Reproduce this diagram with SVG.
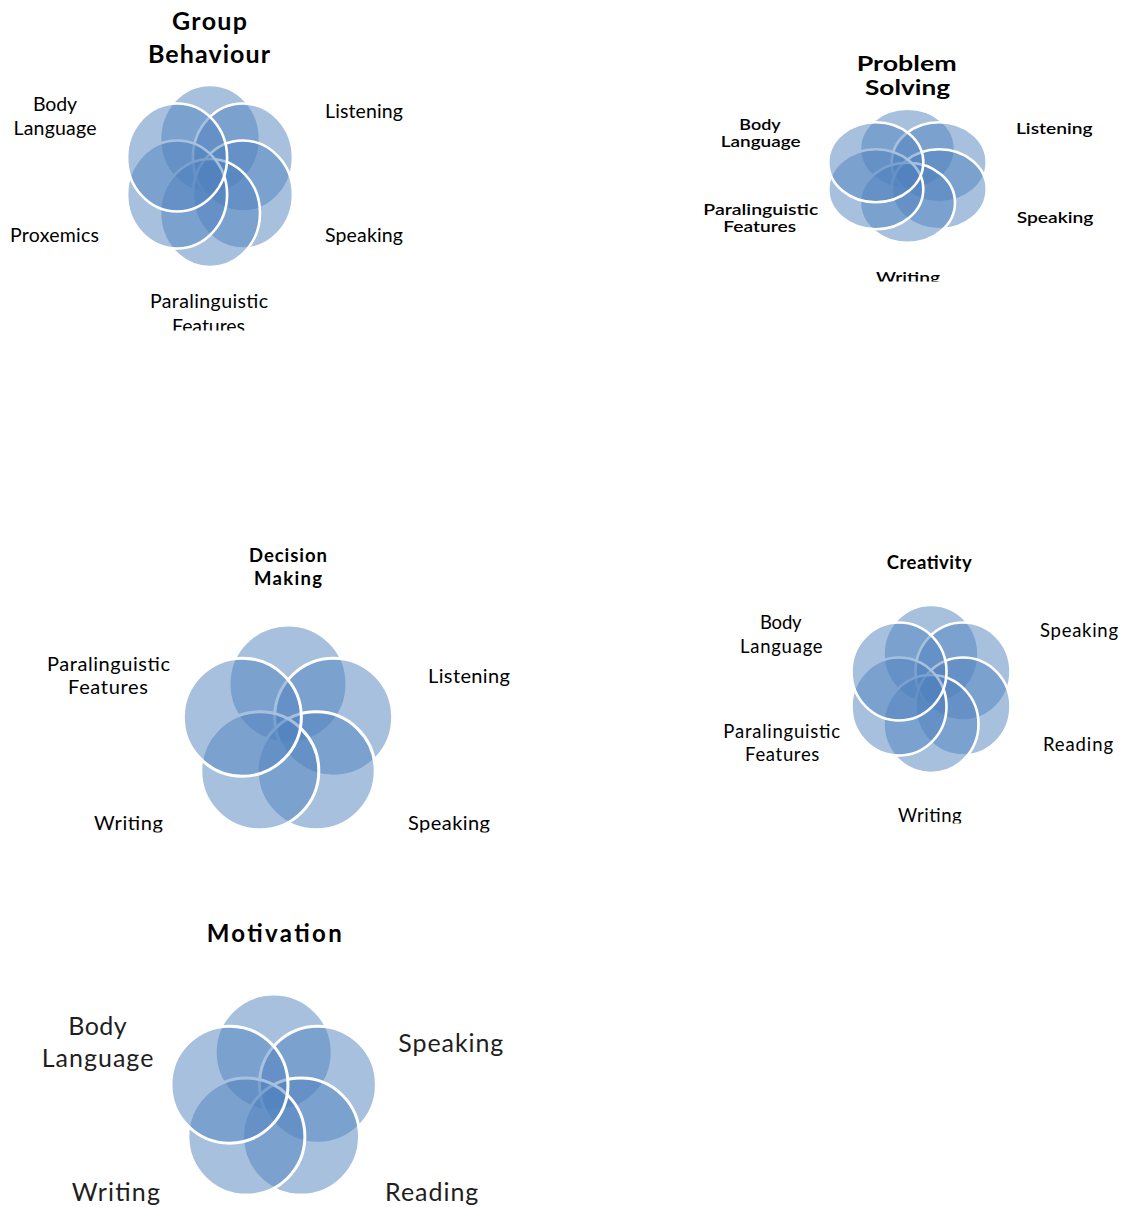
<svg xmlns="http://www.w3.org/2000/svg" width="1122" height="1207" viewBox="0 0 1122 1207">
  <style>
    .ring { fill: #4F81BD; fill-opacity: 0.5; stroke: #FFFFFF; stroke-width: 3; }
    .ring.sm { stroke-width: 2.6; }
    text { font-family: Lato, "Open Sans", "Liberation Sans", sans-serif; fill: #000; text-anchor: middle; }
    .title { font-weight: bold; }
    .ps { font-weight: 600; }
    .mo { font-weight: normal; fill: #1e1e1e; }
  </style>
  <defs>
    <clipPath id="clipGB"><rect x="0" y="0" width="420" height="330.5"/></clipPath>
    <clipPath id="clipPS"><rect x="690" y="0" width="432" height="281.5"/></clipPath>
    <clipPath id="clipDM"><rect x="0" y="500" width="560" height="332.5"/></clipPath>
    <clipPath id="clipCR"><rect x="690" y="500" width="432" height="323.5"/></clipPath>
  </defs>
  <rect width="1122" height="1207" fill="#FFFFFF"/>

  <!-- Group Behaviour: six rings, painted clockwise from the top -->
  <g id="group-behaviour">
    <ellipse id="gb-ring-1" class="ring sm" cx="210" cy="139" rx="50" ry="54"/>
    <ellipse id="gb-ring-2" class="ring sm" cx="242.9" cy="157.5" rx="50" ry="54"/>
    <ellipse id="gb-ring-3" class="ring sm" cx="242.9" cy="194.5" rx="50" ry="54"/>
    <ellipse id="gb-ring-4" class="ring sm" cx="210" cy="213" rx="50" ry="54"/>
    <ellipse id="gb-ring-5" class="ring sm" cx="177.1" cy="194.5" rx="50" ry="54"/>
    <ellipse id="gb-ring-6" class="ring sm" cx="177.1" cy="157.5" rx="50" ry="54"/>
    <text class="title" x="209.5" y="29.5" font-size="25" textLength="75">Group</text>
    <text class="title" x="209" y="62.5" font-size="25" textLength="122">Behaviour</text>
    <text x="55" y="111" font-size="19.5" textLength="44">Body</text>
    <text x="55" y="134.5" font-size="19.5" textLength="83">Language</text>
    <text x="364" y="117.5" font-size="19.5" textLength="78">Listening</text>
    <text x="54.5" y="242.3" font-size="19.5" textLength="89">Proxemics</text>
    <text x="364" y="242.3" font-size="19.5" textLength="78">Speaking</text>
    <text x="209" y="308.3" font-size="19.5" textLength="118">Paralinguistic</text>
    <text clip-path="url(#clipGB)" x="208.5" y="332.5" font-size="19.5" textLength="73">Features</text>
  </g>

  <!-- Problem Solving: six flattened rings -->
  <g id="problem-solving">
    <ellipse id="ps-ring-1" class="ring sm" cx="907.5" cy="148.8" rx="47.5" ry="40"/>
    <ellipse id="ps-ring-2" class="ring sm" cx="939.2" cy="162.3" rx="47.5" ry="40"/>
    <ellipse id="ps-ring-3" class="ring sm" cx="939.2" cy="189.3" rx="47.5" ry="40"/>
    <ellipse id="ps-ring-4" class="ring sm" cx="907.5" cy="202.8" rx="47.5" ry="40"/>
    <ellipse id="ps-ring-5" class="ring sm" cx="875.8" cy="189.3" rx="47.5" ry="40"/>
    <ellipse id="ps-ring-6" class="ring sm" cx="875.8" cy="162.3" rx="47.5" ry="40"/>
    <text class="title" x="906.7" y="71" font-size="20" textLength="100" lengthAdjust="spacingAndGlyphs">Problem</text>
    <text class="title" x="907.5" y="95" font-size="20" textLength="85" lengthAdjust="spacingAndGlyphs">Solving</text>
    <text class="ps" x="760" y="130" font-size="15" textLength="41.3" lengthAdjust="spacingAndGlyphs">Body</text>
    <text class="ps" x="760.7" y="146.7" font-size="15" textLength="80" lengthAdjust="spacingAndGlyphs">Language</text>
    <text class="ps" x="1054.3" y="134.3" font-size="15" textLength="76.7" lengthAdjust="spacingAndGlyphs">Listening</text>
    <text class="ps" x="760.8" y="215" font-size="15" textLength="115" lengthAdjust="spacingAndGlyphs">Paralinguistic</text>
    <text class="ps" x="759.7" y="232.3" font-size="15" textLength="72.7" lengthAdjust="spacingAndGlyphs">Features</text>
    <text class="ps" x="1055" y="223.3" font-size="15" textLength="76.7" lengthAdjust="spacingAndGlyphs">Speaking</text>
    <text class="ps" clip-path="url(#clipPS)" x="908" y="283" font-size="15" textLength="64" lengthAdjust="spacingAndGlyphs">Writing</text>
  </g>

  <!-- Decision Making: five rings -->
  <g id="decision-making">
    <circle id="dm-ring-1" class="ring" cx="288" cy="684" r="59"/>
    <circle id="dm-ring-2" class="ring" cx="333.65" cy="717.17" r="59"/>
    <circle id="dm-ring-3" class="ring" cx="316.21" cy="770.83" r="59"/>
    <circle id="dm-ring-4" class="ring" cx="259.79" cy="770.83" r="59"/>
    <circle id="dm-ring-5" class="ring" cx="242.35" cy="717.17" r="59"/>
    <text class="title" x="288" y="561.5" font-size="18.5" textLength="78">Decision</text>
    <text class="title" x="288" y="584.5" font-size="18.5" textLength="68">Making</text>
    <text x="108.5" y="670.5" font-size="20" textLength="123">Paralinguistic</text>
    <text x="108" y="693.5" font-size="20" textLength="80">Features</text>
    <text x="469" y="682.5" font-size="20" textLength="82">Listening</text>
    <text clip-path="url(#clipDM)" x="128.5" y="830" font-size="20" textLength="69">Writing</text>
    <text clip-path="url(#clipDM)" x="449" y="830" font-size="20" textLength="82">Speaking</text>
  </g>

  <!-- Creativity: six rings -->
  <g id="creativity">
    <ellipse id="cr-ring-1" class="ring sm" cx="931" cy="654" rx="47.5" ry="49"/>
    <ellipse id="cr-ring-2" class="ring sm" cx="963" cy="671.5" rx="47.5" ry="49"/>
    <ellipse id="cr-ring-3" class="ring sm" cx="963" cy="706.5" rx="47.5" ry="49"/>
    <ellipse id="cr-ring-4" class="ring sm" cx="931" cy="724" rx="47.5" ry="49"/>
    <ellipse id="cr-ring-5" class="ring sm" cx="899" cy="706.5" rx="47.5" ry="49"/>
    <ellipse id="cr-ring-6" class="ring sm" cx="899" cy="671.5" rx="47.5" ry="49"/>
    <text class="title" x="929.2" y="569" font-size="18.5" textLength="85">Creativity</text>
    <text x="780.8" y="629.3" font-size="18.5" textLength="41.7">Body</text>
    <text x="781.3" y="652.7" font-size="18.5" textLength="82.7">Language</text>
    <text x="1079" y="636.7" font-size="18.5" textLength="78">Speaking</text>
    <text x="781.7" y="738.3" font-size="18.5" textLength="116.7">Paralinguistic</text>
    <text x="782.2" y="761" font-size="18.5" textLength="74.3">Features</text>
    <text x="1078" y="750.7" font-size="18.5" textLength="70">Reading</text>
    <text clip-path="url(#clipCR)" x="929.8" y="821.5" font-size="18.5" textLength="63.7">Writing</text>
  </g>

  <!-- Motivation: five rings -->
  <g id="motivation">
    <circle id="mo-ring-1" class="ring" cx="273.7" cy="1052.5" r="58.5"/>
    <circle id="mo-ring-2" class="ring" cx="317.92" cy="1084.63" r="58.5"/>
    <circle id="mo-ring-3" class="ring" cx="301.03" cy="1136.62" r="58.5"/>
    <circle id="mo-ring-4" class="ring" cx="246.37" cy="1136.62" r="58.5"/>
    <circle id="mo-ring-5" class="ring" cx="229.48" cy="1084.63" r="58.5"/>
    <text class="title" x="274.2" y="942.3" font-size="24" textLength="135">Motivation</text>
    <text class="mo" x="97.5" y="1035" font-size="25" textLength="58.3">Body</text>
    <text class="mo" x="97.5" y="1066.7" font-size="25" textLength="111.7">Language</text>
    <text class="mo" x="450.8" y="1051.7" font-size="25" textLength="105">Speaking</text>
    <text class="mo" x="115.8" y="1201" font-size="25" textLength="88.3">Writing</text>
    <text class="mo" x="431.7" y="1201" font-size="25" textLength="93.3">Reading</text>
  </g>

  <!-- no connectors are drawn between the clusters -->
  <g id="connectors"/>
</svg>
